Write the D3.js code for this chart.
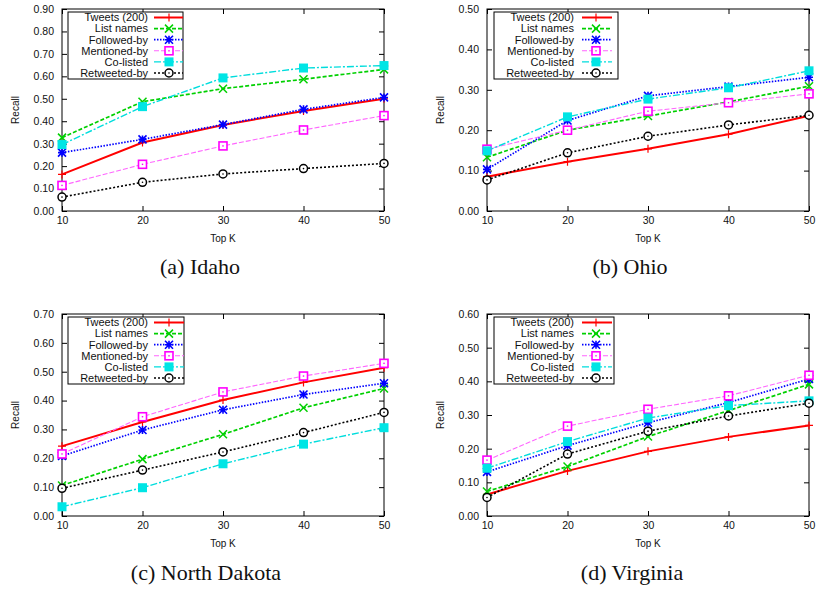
<!DOCTYPE html>
<html><head><meta charset="utf-8">
<script src="https://cdn.jsdelivr.net/npm/d3@7"></script>
<style>body{margin:0;background:#fff;} svg{display:block;}</style>
</head><body>
<svg id="chart" width="818" height="597"></svg>
<script>
// ---- data ----
const topK = [10, 20, 30, 40, 50];
const seriesNames = ["Tweets (200)", "List names", "Followed-by", "Mentioned-by", "Co-listed", "Retweeted-by"];
const captions = ["(a) Idaho", "(b) Ohio", "(c) North Dakota", "(d) Virginia"];
const yMaxes = [0.9, 0.5, 0.7, 0.6];

const idaho = [
  [0.163, 0.305, 0.383, 0.446, 0.500],
  [0.327, 0.487, 0.545, 0.587, 0.631],
  [0.260, 0.319, 0.385, 0.453, 0.506],
  [0.114, 0.208, 0.290, 0.361, 0.425],
  [0.296, 0.465, 0.593, 0.637, 0.648],
  [0.062, 0.128, 0.165, 0.189, 0.212]
];
const ohio = [
  [0.085, 0.122, 0.154, 0.190, 0.236],
  [0.133, 0.200, 0.235, 0.270, 0.309],
  [0.103, 0.224, 0.285, 0.308, 0.331],
  [0.153, 0.200, 0.247, 0.268, 0.290],
  [0.149, 0.233, 0.277, 0.305, 0.347],
  [0.077, 0.144, 0.185, 0.213, 0.237]
];
const northDakota = [
  [0.242, 0.326, 0.402, 0.463, 0.514],
  [0.106, 0.197, 0.283, 0.375, 0.442],
  [0.208, 0.298, 0.368, 0.421, 0.460],
  [0.215, 0.344, 0.430, 0.485, 0.529],
  [0.032, 0.098, 0.181, 0.249, 0.306],
  [0.096, 0.159, 0.222, 0.289, 0.359]
];
const virginia = [
  [0.064, 0.134, 0.192, 0.235, 0.269],
  [0.073, 0.147, 0.236, 0.313, 0.391],
  [0.131, 0.209, 0.277, 0.337, 0.407],
  [0.166, 0.267, 0.317, 0.357, 0.418],
  [0.142, 0.221, 0.291, 0.328, 0.342],
  [0.055, 0.184, 0.252, 0.297, 0.335]
];
const panelData = [idaho, ohio, northDakota, virginia];

// ---- styles ----
const styles = [
  {color: "#ff0000", mcolor: "#ff0000", dash: null, width: 2, marker: "plus"},
  {color: "#00d000", mcolor: "#00d000", dash: "4,2", width: 1.7, marker: "cross"},
  {color: "#0000ff", mcolor: "#0000ff", dash: "1.5,1.5", width: 1.7, marker: "star"},
  {color: "#ff66ff", mcolor: "#ff00ff", dash: "5,2", width: 1.1, marker: "sqdot"},
  {color: "#00dddd", mcolor: "#00e5e5", dash: "7,2,2,2", width: 1.4, marker: "fsq"},
  {color: "#000000", mcolor: "#000000", dash: "2,2", width: 1.6, marker: "circdot"}
];

// ---- layout ----
const panels = [
  {x0: 62, x1: 384, yTop: 9, yBot: 211, leg: {l: 68, r: 183, t: 12, textX: 148, lx0: 154, lx1: 183, mx: 169}, capX: 200, capY: 274, topKY: 242},
  {x0: 487, x1: 809, yTop: 9, yBot: 211, leg: {l: 494, r: 618, t: 12, textX: 574, lx0: 582, lx1: 612, mx: 596}, capX: 630, capY: 274, topKY: 242},
  {x0: 62, x1: 384, yTop: 314, yBot: 516, leg: {l: 68, r: 184, t: 317, textX: 148, lx0: 154, lx1: 184, mx: 169}, capX: 206, capY: 580, topKY: 547},
  {x0: 487, x1: 809, yTop: 314, yBot: 516, leg: {l: 494, r: 614, t: 317, textX: 574, lx0: 582, lx1: 612, mx: 596}, capX: 632, capY: 580, topKY: 547}
];

const svg = d3.select("#chart");
const FONT = "Liberation Sans, Arial, sans-serif";

function drawMarker(g, type, cx, cy, color) {
  const s = 4;
  const m = g.append("g").attr("transform", `translate(${cx},${cy})`);
  if (type === "plus") {
    m.append("path").attr("d", `M${-s},0H${s}M0,${-s}V${s}`).attr("stroke", color).attr("stroke-width", 1.2);
  } else if (type === "cross") {
    m.append("path").attr("d", `M${-s},${-s}L${s},${s}M${-s},${s}L${s},${-s}`).attr("stroke", color).attr("stroke-width", 1.5);
  } else if (type === "star") {
    m.append("path").attr("d", `M${-s},${-s}L${s},${s}M${-s},${s}L${s},${-s}M${-s},0H${s}M0,${-s}V${s}`).attr("stroke", color).attr("stroke-width", 1.6);
  } else if (type === "sqdot") {
    m.append("rect").attr("x", -s).attr("y", -s).attr("width", 2*s).attr("height", 2*s).attr("fill", "#fff").attr("stroke", color).attr("stroke-width", 1.6);
    m.append("rect").attr("x", -0.7).attr("y", -0.7).attr("width", 1.4).attr("height", 1.4).attr("fill", color);
  } else if (type === "fsq") {
    m.append("rect").attr("x", -s-0.5).attr("y", -s-0.5).attr("width", 2*s+1).attr("height", 2*s+1).attr("fill", color);
  } else if (type === "circdot") {
    m.append("circle").attr("r", s).attr("fill", "#fff").attr("stroke", color).attr("stroke-width", 1.5);
    m.append("circle").attr("r", 0.8).attr("fill", color);
  }
}

panels.forEach((p, pi) => {
  const g = svg.append("g");
  const x = d3.scaleLinear().domain([10, 50]).range([p.x0, p.x1]);
  const y = d3.scaleLinear().domain([0, yMaxes[pi]]).range([p.yBot, p.yTop]);
  const yTicks = d3.range(0, yMaxes[pi] + 0.001, 0.1);

  const yAxis = d3.axisLeft(y).tickValues(yTicks).tickFormat(d3.format(".2f")).tickSizeInner(-5).tickSizeOuter(0).tickPadding(8);
  const ya = g.append("g").attr("transform", `translate(${p.x0},0)`).call(yAxis);
  const yaR = g.append("g").attr("transform", `translate(${p.x1},0)`).call(d3.axisRight(y).tickValues(yTicks).tickSizeInner(-5).tickSizeOuter(0).tickFormat(""));
  const xAxis = d3.axisBottom(x).tickValues(topK).tickSizeInner(-5).tickSizeOuter(0).tickPadding(6);
  const xa = g.append("g").attr("transform", `translate(0,${p.yBot})`).call(xAxis);
  const xaT = g.append("g").attr("transform", `translate(0,${p.yTop})`).call(d3.axisTop(x).tickValues(topK).tickSizeInner(-5).tickSizeOuter(0).tickFormat(""));
  [ya, yaR, xa, xaT].forEach(a => {
    a.select(".domain").remove();
    a.selectAll("text").attr("font-family", FONT).attr("font-size", 10.5).attr("fill", "#111");
    a.selectAll("line").attr("stroke", "#000");
  });
  g.append("rect").attr("x", p.x0).attr("y", p.yTop).attr("width", p.x1 - p.x0).attr("height", p.yBot - p.yTop)
    .attr("fill", "none").attr("stroke", "#000").attr("stroke-width", 1);

  g.append("text").attr("transform", `translate(${p.x0 - 43},${(p.yTop + p.yBot) / 2}) rotate(-90)`)
    .attr("text-anchor", "middle").attr("font-family", FONT).attr("font-size", 10).attr("fill", "#111").text("Recall");
  g.append("text").attr("x", (p.x0 + p.x1) / 2).attr("y", p.topKY).attr("text-anchor", "middle")
    .attr("font-family", FONT).attr("font-size", 10).attr("fill", "#111").text("Top K");

  const line = d3.line().x((d, i) => x(topK[i])).y(d => y(d));
  panelData[pi].forEach((vals, si) => {
    const st = styles[si];
    g.append("path").datum(vals).attr("d", line).attr("fill", "none")
      .attr("stroke", st.color).attr("stroke-width", st.width).attr("stroke-dasharray", st.dash);
  });
  panelData[pi].forEach((vals, si) => {
    const st = styles[si];
    vals.forEach((v, i) => drawMarker(g, st.marker, x(topK[i]), y(v), st.mcolor));
  });

  const L = p.leg;
  g.append("rect").attr("x", L.l).attr("y", L.t).attr("width", L.r - L.l).attr("height", 67)
    .attr("fill", "#fff").attr("stroke", "#000").attr("stroke-width", 1);
  seriesNames.forEach((name, si) => {
    const st = styles[si];
    const ry = L.t + 5.5 + si * 11.1;
    g.append("text").attr("x", L.textX).attr("y", ry).attr("dy", "0.35em").attr("text-anchor", "end")
      .attr("font-family", FONT).attr("font-size", 11).attr("fill", "#111").text(name);
    g.append("line").attr("x1", L.lx0).attr("x2", L.lx1).attr("y1", ry).attr("y2", ry)
      .attr("stroke", st.color).attr("stroke-width", st.width).attr("stroke-dasharray", st.dash);
    drawMarker(g, st.marker, L.mx, ry, st.mcolor);
  });

  g.append("text").attr("x", p.capX).attr("y", p.capY).attr("text-anchor", "middle")
    .attr("font-family", "Liberation Serif, DejaVu Serif, serif").attr("font-size", 22).attr("fill", "#111").text(captions[pi]);
});
</script>
</body></html>
